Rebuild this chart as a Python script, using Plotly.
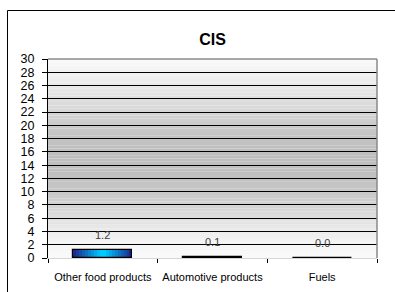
import plotly.graph_objects as go

# ---- data ----
categories = ["Other food products", "Automotive products", "Fuels"]
values = [1.2, 0.1, 0.0]
title_text = "CIS"
y_ticks = list(range(0, 31, 2))

FONT = "Liberation Sans, Arial, sans-serif"

fig = go.Figure()

def lerp(c1, c2, t):
    return "#%02x%02x%02x" % tuple(int(round(a + (b - a) * t)) for a, b in zip(c1, c2))

dark = (28, 40, 140)
light = (0, 205, 255)
n_layers = 10
full_w = 0.54
for i in range(n_layers):
    t = i / (n_layers - 1)
    w = full_w * (1 - i / n_layers)
    fig.add_trace(go.Bar(
        x=categories, y=values, width=w,
        marker=dict(color=lerp(dark, light, t), line=dict(width=0)),
        hoverinfo="skip", showlegend=False,
    ))
fig.add_trace(go.Bar(
    x=categories, y=values, width=full_w,
    marker=dict(color="rgba(0,0,0,0)", line=dict(color="black", width=1.2)),
    showlegend=False,
))

for c, v in zip(categories, values):
    fig.add_annotation(x=c, y=v, text=f"{v:.1f}", showarrow=False,
                       yanchor="middle", yshift=15,
                       font=dict(family=FONT, size=11, color="#404040"))

stops = [(0, 250), (2, 246), (4, 236), (6, 224), (8, 212), (10, 200), (12, 194),
         (14, 191), (16, 191), (18, 195), (20, 202), (22, 213), (24, 224),
         (26, 234), (28, 243), (30, 250)]
def grey_at(v):
    for (a, ga), (b, gb) in zip(stops[:-1], stops[1:]):
        if a <= v <= b:
            g = ga + (gb - ga) * (v - a) / (b - a)
            return "rgb(%d,%d,%d)" % (g, g, g)
    return "white"
step = 0.5
k = 0
while k * step < 30:
    y0 = k * step
    fig.add_shape(type="rect", xref="paper", yref="y", x0=0, x1=1, y0=y0, y1=y0 + step,
                  fillcolor=grey_at(y0 + step / 2), line=dict(width=0), layer="below")
    k += 1

fig.add_shape(type="line", xref="paper", yref="paper", x0=0, x1=1, y0=1, y1=1,
              line=dict(color="#8a8a8a", width=1.5))
fig.add_shape(type="line", xref="paper", yref="paper", x0=1, x1=1, y0=0, y1=1,
              line=dict(color="#8a8a8a", width=1.5))

W, H = 395, 292
ml, mr, mt, mb = 48, 18, 59, 34
pw, ph = W - ml - mr, H - mt - mb
def px_x(x):
    return (x - ml) / pw
def px_y(y):
    return (H - mb - y) / ph
fig.add_shape(type="rect", xref="paper", yref="paper",
              x0=px_x(7.5), x1=px_x(420), y0=px_y(310), y1=px_y(10.5),
              line=dict(color="black", width=1), fillcolor="rgba(0,0,0,0)")

fig.update_layout(
    width=W, height=H,
    margin=dict(l=ml, r=mr, t=mt, b=mb, autoexpand=False),
    paper_bgcolor="white", plot_bgcolor="rgba(0,0,0,0)",
    barmode="overlay", bargap=0,
    title=dict(text=f"<b>{title_text}</b>", x=(ml + pw / 2) / W, xanchor="center",
               y=1 - 39 / H, yanchor="middle", yref="container",
               font=dict(family=FONT, size=16, color="black")),
    xaxis=dict(type="category", tickson="boundaries", ticks="outside", ticklen=4,
               tickcolor="black", showgrid=False, showline=True, linecolor="#d6d6d6",
               linewidth=1, tickfont=dict(family=FONT, size=11, color="black"),
               ticklabelstandoff=9, zeroline=False, tickangle=0, automargin=False),
    yaxis=dict(range=[0, 30], tickvals=y_ticks, ticks="outside", ticklen=5,
               tickcolor="black", showgrid=True, gridcolor="black", gridwidth=1,
               showline=True, linecolor="black", linewidth=1, zeroline=False,
               tickfont=dict(family=FONT, size=12.5, color="black"),
               ticklabelstandoff=5, automargin=False),
)

fig.write_html("out.html", config={"displayModeBar": False},
               post_script="document.body.style.margin='0';document.body.style.overflow='hidden';")
